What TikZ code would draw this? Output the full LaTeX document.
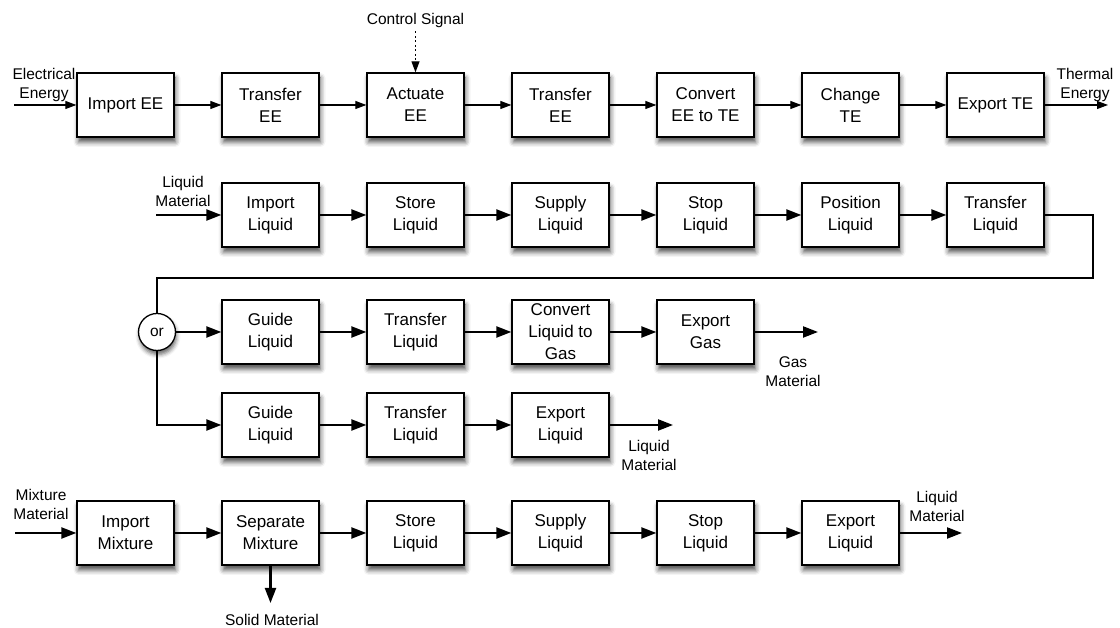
\documentclass[tikz,border=0pt]{standalone}
\usepackage{fontspec}
\setmainfont{Liberation Sans}
\usetikzlibrary{arrows.meta,shadows.blur}

\begin{document}
\begin{tikzpicture}[x=1pt,y=1pt,line join=miter,
  fn/.style={draw,line width=1.3pt,fill=white,minimum width=97pt,minimum height=64pt,
    align=center,inner sep=2pt,font=\fontsize{17}{22}\selectfont,
    blur shadow={shadow xshift=1.5pt,shadow yshift=-5pt,shadow blur radius=5pt,shadow opacity=70}},
  orjoin/.style={circle,draw,line width=1.3pt,fill=white,minimum size=37pt,inner sep=0pt,
    font=\fontsize{15.5}{19}\selectfont,
    blur shadow={shadow xshift=1pt,shadow yshift=-4pt,shadow blur radius=4pt,shadow opacity=60}},
  lbl/.style={align=center,inner sep=0pt,font=\fontsize{15.5}{19}\selectfont},
  eearrow/.style={line width=1.1pt,-{Triangle[length=11pt,width=8pt]}},
  matarrow/.style={line width=2.2pt,-{Triangle[length=15pt,width=11pt]}}]
  \useasboundingbox (0,0) rectangle (1120,628);

  % energy flow
  \node[fn] (ie)  at (125.5,523) {Import EE};
  \node[fn] (te1) at (270.5,523) {Transfer\\EE};
  \node[fn] (ae)  at (415.5,523) {Actuate\\EE};
  \node[fn] (te2) at (560.5,523) {Transfer\\EE};
  \node[fn] (ce)  at (705.5,523) {Convert\\EE to TE};
  \node[fn] (ct)  at (850.5,523) {Change\\TE};
  \node[fn] (et)  at (995.5,523) {Export TE};
  \node[lbl] (eelbl) at (44,543) {Electrical\\Energy};
  \node[lbl] (telbl) at (1085,543) {Thermal\\Energy};
  \node[lbl] (ctrl) at (415.5,607) {Control Signal};
  \coordinate (eein) at (14,523);
  \coordinate (teout) at (1108,523);
  \draw[eearrow] (eein) -- (ie);
  \foreach \a/\b in {ie/te1,te1/ae,ae/te2,te2/ce,ce/ct,ct/et}
    \draw[eearrow] (\a) -- (\b);
  \draw[eearrow] (et) -- (teout);
  \draw[line width=1.1pt,dash pattern=on 2pt off 2.5pt,-{Triangle[length=11pt,width=8pt]}]
    (ctrl.south) ++(0,-3) -- (ae.north);

  % liquid flow
  \node[fn] (il)  at (270.5,413) {Import\\Liquid};
  \node[fn] (sl)  at (415.5,413) {Store\\Liquid};
  \node[fn] (spl) at (560.5,413) {Supply\\Liquid};
  \node[fn] (stl) at (705.5,413) {Stop\\Liquid};
  \node[fn] (pl)  at (850.5,413) {Position\\Liquid};
  \node[fn] (tl)  at (995.5,413) {Transfer\\Liquid};
  \node[lbl] (lmlbl) at (183,437) {Liquid\\Material};
  \coordinate (lmin) at (156,413);
  \coordinate (loopr) at (1093,350);
  \draw[matarrow] (lmin) -- (il);
  \foreach \a/\b in {il/sl,sl/spl,spl/stl,stl/pl,pl/tl}
    \draw[matarrow] (\a) -- (\b);

  \node[orjoin] (orn) at (157,296) {or};
  \draw[line width=2.2pt] (tl.east) -| (loopr) -| (orn.north);

  \node[fn] (gl1) at (270.5,296) {Guide\\Liquid};
  \node[fn] (tl1) at (415.5,296) {Transfer\\Liquid};
  \node[fn] (cg)  at (560.5,296) {Convert\\Liquid to\\Gas};
  \node[fn] (eg)  at (705.5,296) {Export\\Gas};
  \node[lbl] (gmlbl) at (793,256) {Gas\\Material};
  \coordinate (gout) at (818,296);
  \draw[matarrow] (orn) -- (gl1);
  \foreach \a/\b in {gl1/tl1,tl1/cg,cg/eg}
    \draw[matarrow] (\a) -- (\b);
  \draw[matarrow] (eg) -- (gout);

  \node[fn] (gl2) at (270.5,203) {Guide\\Liquid};
  \node[fn] (tl2) at (415.5,203) {Transfer\\Liquid};
  \node[fn] (el)  at (560.5,203) {Export\\Liquid};
  \node[lbl] (lolbl) at (649,173) {Liquid\\Material};
  \coordinate (lout) at (673,203);
  \draw[matarrow] (orn.south) |- (gl2);
  \foreach \a/\b in {gl2/tl2,tl2/el}
    \draw[matarrow] (\a) -- (\b);
  \draw[matarrow] (el) -- (lout);

  % mixture flow
  \node[fn] (im)   at (125.5,95) {Import\\Mixture};
  \node[fn] (sm)   at (270.5,95) {Separate\\Mixture};
  \node[fn] (sl2)  at (415.5,95) {Store\\Liquid};
  \node[fn] (spl2) at (560.5,95) {Supply\\Liquid};
  \node[fn] (stl2) at (705.5,95) {Stop\\Liquid};
  \node[fn] (el2)  at (850.5,95) {Export\\Liquid};
  \node[lbl] (mmlbl) at (41,124) {Mixture\\Material};
  \node[lbl] (lm2lbl) at (937,122) {Liquid\\Material};
  \node[lbl] (smlbl) at (272,8) {Solid Material};
  \coordinate (mmin) at (15,95);
  \coordinate (lm2out) at (962,95);
  \coordinate (smout) at (270.5,25);
  \draw[matarrow] (mmin) -- (im);
  \foreach \a/\b in {im/sm,sm/sl2,sl2/spl2,spl2/stl2,stl2/el2}
    \draw[matarrow] (\a) -- (\b);
  \draw[matarrow] (el2) -- (lm2out);
  \draw[matarrow] (sm) -- (smout);
\end{tikzpicture}
\end{document}
